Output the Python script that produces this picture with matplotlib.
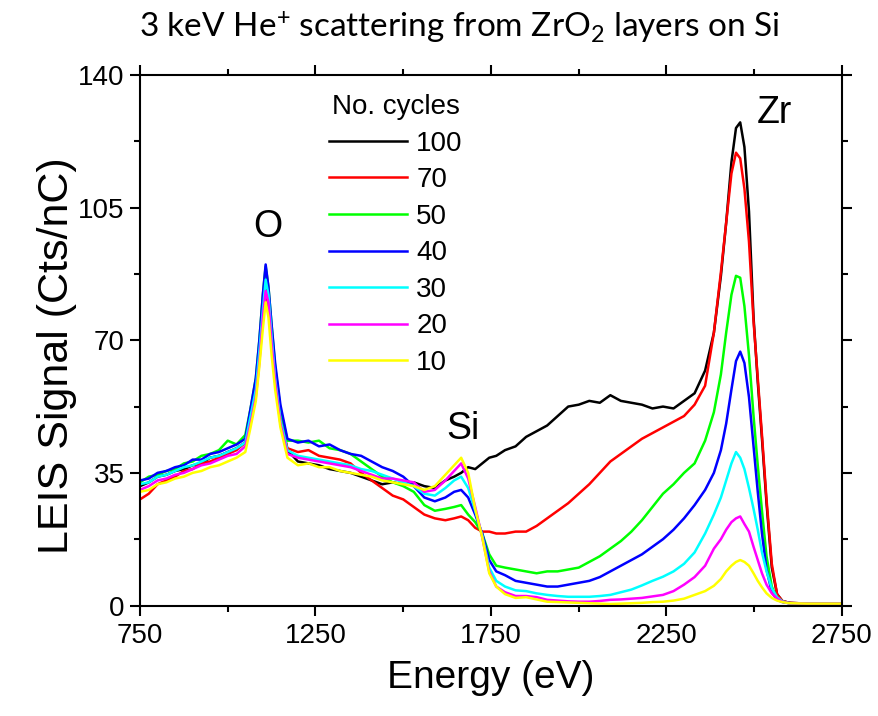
import matplotlib
matplotlib.use('Agg')
import matplotlib.pyplot as plt

plt.rcParams['font.family'] = ['Liberation Sans', 'DejaVu Sans']
plt.rcParams['mathtext.default'] = 'regular'

energy = [750, 775, 800, 825, 850, 875, 900, 925, 950, 975, 1000, 1025, 1050,
          1065, 1080, 1090, 1100, 1108, 1116, 1125, 1135, 1150, 1170,
          1200, 1230, 1260, 1290, 1320, 1350, 1380, 1410, 1440, 1470, 1500,
          1530, 1560, 1590, 1620,
          1645, 1665, 1685, 1705, 1725, 1745, 1765,
          1790, 1820, 1850, 1880, 1910, 1940, 1970, 2000, 2030, 2060, 2090,
          2120, 2150, 2180, 2210, 2240, 2270, 2300, 2330, 2360,
          2385, 2405, 2420, 2435, 2448, 2460, 2472, 2485, 2498, 2510, 2522,
          2535, 2550, 2565, 2580,
          2600, 2650, 2700, 2750]

cycles = ['100', '70', '50', '40', '30', '20', '10']
colors = ['#000000', '#ff0000', '#00ff00', '#0000ff', '#00ffff', '#ff00ff', '#ffff00']

x_major = [750, 1250, 1750, 2250, 2750]
x_minor = [1000, 1500, 2000, 2500]
y_major = [0, 35, 70, 105, 140]
y_minor = [17.5, 52.5, 87.5, 122.5]

signal_100 = [31.5, 32.5, 34, 34.5, 35.5, 36, 37, 37.5, 39, 39.5, 40.5, 41.5, 43,
              50, 58, 67, 78, 86, 81, 71, 60, 50, 41,
              38, 37.5, 37, 36, 35.5, 35, 34, 33, 32, 32.5, 32, 32.5, 31.5, 31, 33,
              34, 35, 36.5, 36, 37.5, 39, 39.5,
              41, 42, 44.5, 46, 47.5, 50, 52.5, 53, 54, 53.5, 55.5, 54, 53.5, 53,
              52, 52.5, 52, 54, 56, 62,
              72, 87, 101, 117, 126, 127.5, 121, 104, 76, 59, 44, 27, 10, 3, 1.2,
              0.7, 0.5, 0.5, 0.5]
signal_70 = [28, 29.5, 32, 33, 34, 35.5, 36, 37.5, 38, 39, 40, 41, 43,
             49, 56, 65, 76, 83, 79, 69, 59, 49, 41.5,
             40.5, 41, 39.5, 39, 38.5, 37.5, 35, 33, 31, 29, 28, 26, 24, 23, 22.5,
             23, 23.5, 22.5, 20.5, 19.5, 19.5, 19,
             19, 19.5, 19.5, 21, 23, 25, 27, 29.5, 32, 35, 38, 40, 42, 44, 45.5,
             47, 48.5, 50, 53, 58,
             72, 88, 101, 114, 119.5, 118, 110, 96, 75, 60, 45, 28, 11, 3, 1.2,
             0.7, 0.5, 0.5, 0.5]
signal_50 = [32.5, 34, 34.5, 35.5, 36, 37.5, 38, 39.5, 40, 41, 43.5, 42.5, 45,
             52, 60, 70, 82, 89.5, 84, 74, 63, 52, 43.5,
             43.5, 43, 43.5, 41.5, 41, 40, 38, 36, 34, 32.5, 31.5, 30, 26.5, 25, 25.5,
             26, 26.5, 24, 22, 19, 13.5, 10.5,
             10, 9.5, 9, 8.5, 9, 9, 9.5, 10, 11.5, 13, 15, 17, 19.5, 22.5, 26,
             29.5, 32, 35, 37.5, 43.5,
             51, 61, 72, 82, 87, 86.5, 79, 66, 50, 37, 25, 13, 5, 1.8, 1,
             0.6, 0.5, 0.5, 0.5]
signal_40 = [33, 33.5, 35, 35.5, 36.5, 37, 38.5, 38.5, 40, 40.5, 41.5, 42.5, 44,
             52, 60, 70, 82, 90, 84, 74, 64, 53, 44,
             43, 43.5, 42, 42.5, 41, 40, 39.5, 38, 36.5, 35.5, 34, 31.5, 28.5, 27.5, 28.5,
             30, 30.5, 28.5, 24, 19, 12, 9,
             8, 6.5, 6, 5.5, 5, 5, 5.5, 6, 6.5, 7.5, 9, 10.5, 12, 13.5, 15.5,
             17.5, 20, 23, 26.5, 30.5,
             35, 41, 48, 57, 64.5, 67, 64, 55, 42, 30, 19, 9.5, 3.5, 1.5, 0.9,
             0.6, 0.5, 0.5, 0.5]
signal_30 = [32, 32.5, 34, 34.5, 35.5, 36.5, 37, 38, 39, 39.5, 40.5, 41.5, 43,
             50, 57, 67, 78, 86, 82, 71, 60, 49, 41,
             39.5, 39, 38.5, 38, 37.5, 37, 36, 35.5, 34.5, 33.5, 32.5, 31.5, 29.5, 29, 31,
             33, 34, 31, 25, 18.5, 10, 6.5,
             5, 4, 3.8, 3.2, 2.8, 2.5, 2.3, 2.3, 2.3, 2.5, 2.8, 3.5, 4.2, 5.3, 6.5,
             7.6, 9, 11, 14, 19,
             24, 28.5, 33, 37.5, 40.5, 39, 36, 31, 25.5, 20, 14, 9, 4.5, 2.2, 1.1,
             0.6, 0.5, 0.5, 0.5]
signal_20 = [30.5, 31.5, 33, 33.5, 34.5, 35, 36, 37, 37.5, 38.5, 39.5, 40, 42,
             48, 55, 64, 76, 83, 80, 69, 59, 48, 40,
             39, 38.5, 38, 37.5, 37, 36.5, 35.5, 34.5, 33.5, 33.5, 33, 32.5, 30, 30.5, 33,
             35.5, 37.5, 33.5, 26, 18, 9, 5,
             3.5, 2.5, 2.5, 2.2, 1.5, 1.3, 1.1, 1, 1, 1.2, 1.5, 1.6, 1.8, 2, 2.4,
             2.8, 3.8, 5.5, 7.5, 10.5,
             15, 17.5, 20, 22, 23, 23.5, 21.5, 19.5, 15.5, 12, 8.5, 5.5, 3.2, 1.8, 1,
             0.6, 0.5, 0.5, 0.5]
signal_10 = [30, 30.5, 32, 32.5, 33.5, 34, 35, 35.5, 36.5, 37, 38, 39, 40.5,
             47, 54, 63, 73, 80, 76, 66, 57, 47, 39,
             37, 37.5, 36.5, 36.5, 35.5, 35, 34.5, 34, 33, 32.5, 32, 31.5, 30.5, 31.5, 34.5,
             37, 39, 35, 25.5, 18, 8.5, 5,
             3, 2, 2.2, 1.6, 1, 0.9, 0.8, 0.7, 0.6, 0.5, 0.4, 0.5, 0.6, 0.7, 0.9,
             1, 1.3, 1.8, 2.8, 3.8,
             5.2, 7, 9, 10.5, 11.5, 12, 11.5, 10.5, 8.5, 6.5, 4.8, 3.2, 2, 1.3, 0.9,
             0.6, 0.5, 0.5, 0.5]

signals = [signal_100, signal_70, signal_50, signal_40, signal_30, signal_20, signal_10]

fig = plt.figure(figsize=(8.79, 7.16), dpi=100)
ax = fig.add_axes([140 / 879, 1 - 605.5 / 716, 702 / 879, 530.5 / 716])

for label, color, values in zip(cycles, colors, signals):
    ax.plot(energy, values, color=color, lw=1.8, label=label)

ax.set_xlim(750, 2750)
ax.set_ylim(0, 140)
ax.set_xticks(x_major)
ax.set_xticks(x_minor, minor=True)
ax.set_yticks(y_major)
ax.set_yticks(y_minor, minor=True)
ax.tick_params(which='both', direction='out', top=True, right=True, width=1.5,
               labelsize=20)
ax.tick_params(which='major', length=7.5)
ax.tick_params(which='minor', length=4)
ax.tick_params(axis='x', pad=5)
for spine in ax.spines.values():
    spine.set_linewidth(1.5)

ax.set_xlabel('Energy (eV)', fontsize=28, labelpad=8)
ax.set_ylabel('LEIS Signal (Cts/nC)', fontsize=31)
ax.yaxis.set_label_coords(-0.09, 0.47)

ax.text(1115, 100, 'O', fontsize=27, ha='center', va='center')
ax.text(1670, 46.5, 'Si', fontsize=27, ha='center', va='center')
ax.text(2556, 130, 'Zr', fontsize=27, ha='center', va='center')

ax.legend(title='No. cycles', loc='upper left', bbox_to_anchor=(0.269, 0.964),
          frameon=False, fontsize=20, title_fontsize=20, handlelength=2.8,
          handletextpad=0.35, labelspacing=0.38, borderpad=0, borderaxespad=0)

fig.text(459 / 879, 1 - 28 / 716,
         '3 keV He$^{+}$ scattering from ZrO$_{2}$ layers on Si',
         fontsize=24, family='Lato', ha='center', va='center')

fig.savefig('out.png', dpi=100)
